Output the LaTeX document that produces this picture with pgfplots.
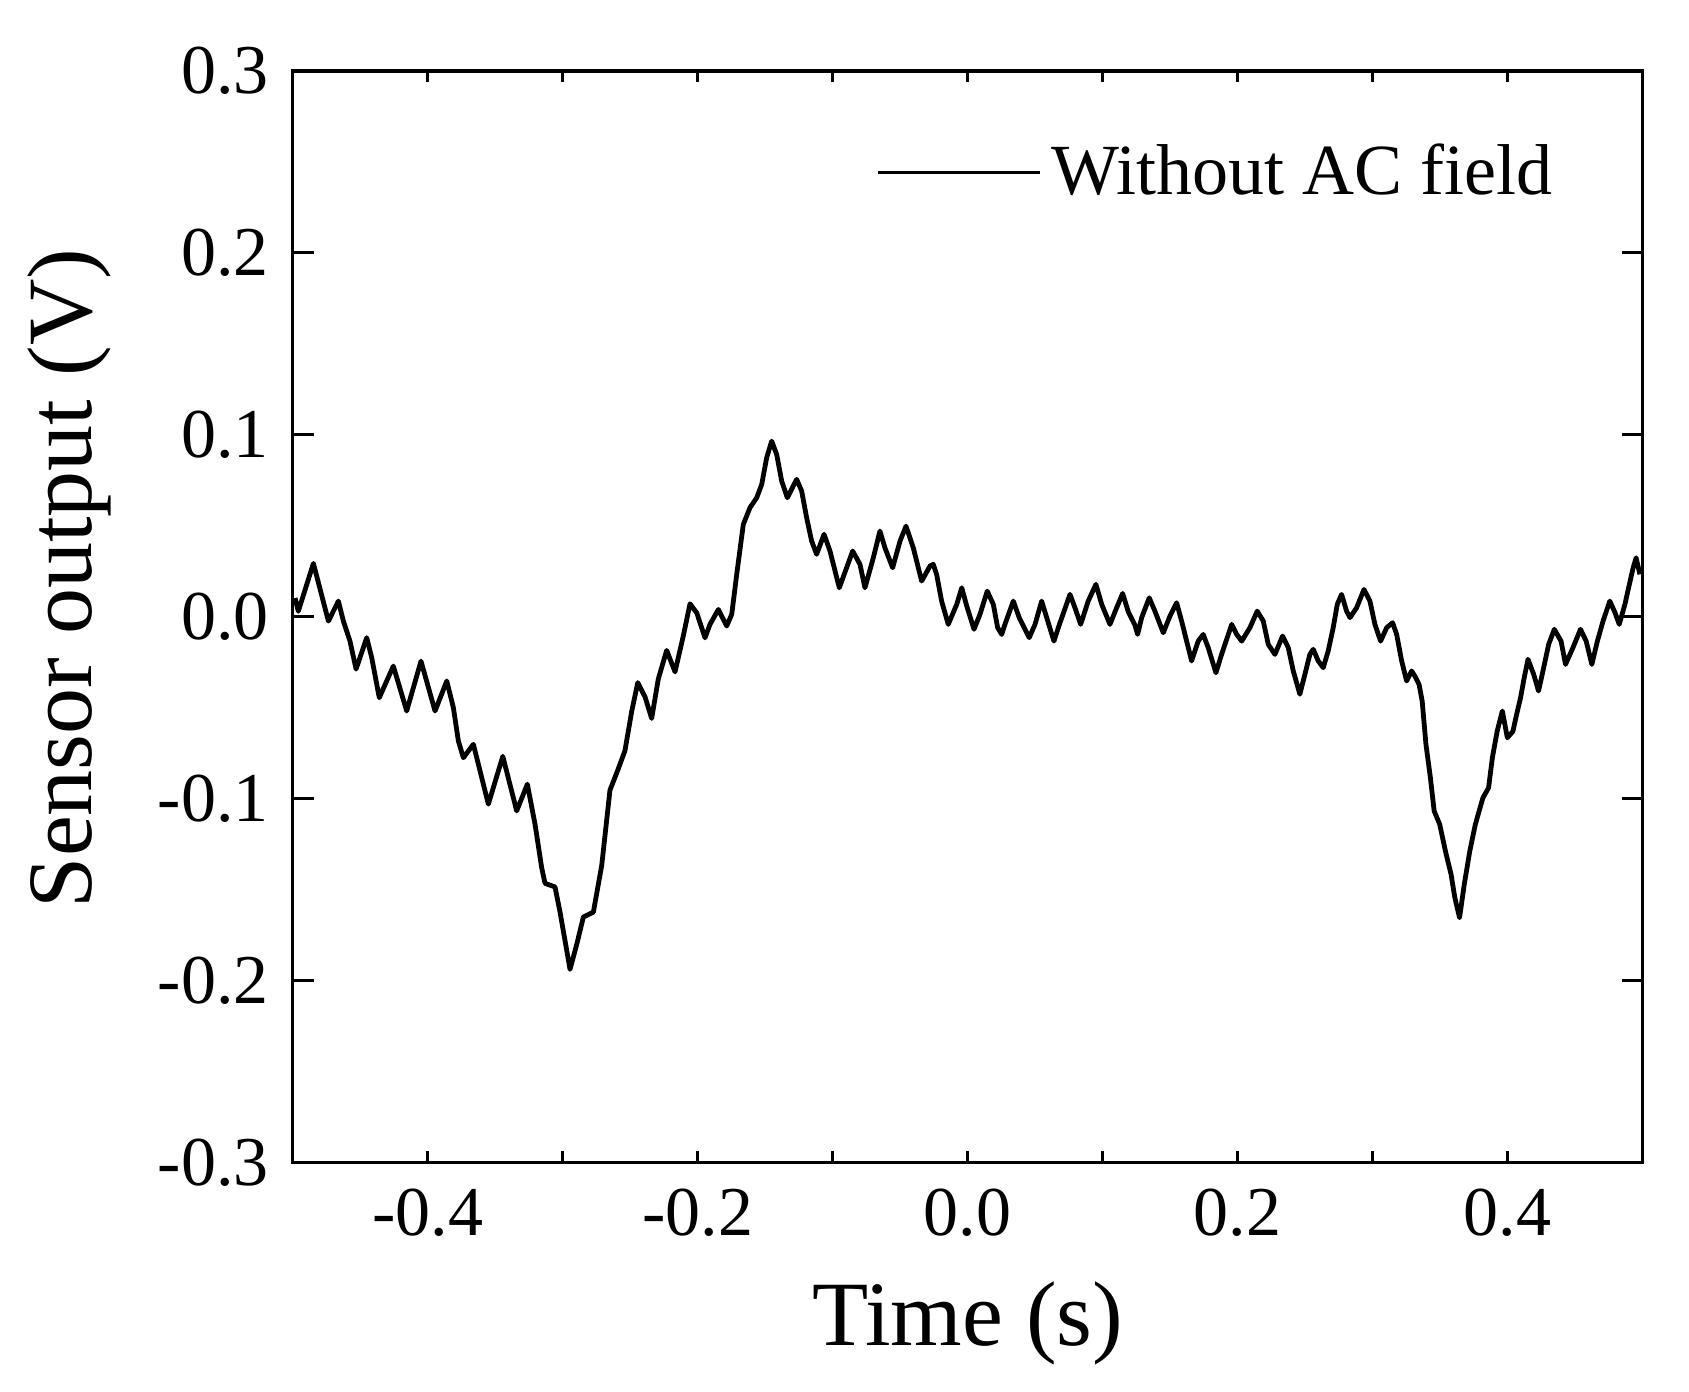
\documentclass[border=0pt]{standalone}
\usepackage{fontspec}
\setmainfont{Liberation Serif}
\usepackage{pgfplots}
\pgfplotsset{compat=1.18}

\begin{document}
\begin{tikzpicture}
\begin{axis}[
  scale only axis,
  width=337.5pt, height=273pt,
  xmin=-0.5, xmax=0.5, ymin=-0.3, ymax=0.3,
  xtick={-0.4,-0.2,0,0.2,0.4},
  minor xtick={-0.4,-0.3,-0.2,-0.1,0,0.1,0.2,0.3,0.4},
  ytick={-0.3,-0.2,-0.1,0,0.1,0.2,0.3},
  tick align=inside,
  major tick length=5.2pt,
  minor tick length=2.9pt,
  axis line style={line width=0.85pt},
  every tick/.style={black, line width=0.85pt},
  every major x tick/.append style={draw opacity=0},
  ticklabel style={font=\fontsize{17.5}{21}\selectfont},
  xticklabel style={yshift=-3pt},
  yticklabel style={xshift=-2.5pt},
  /pgf/number format/.cd, fixed, fixed zerofill, precision=1, assume math mode=true,
  /pgfplots/.cd,
  xlabel={Time (s)},
  ylabel={Sensor output (V)},
  xlabel style={font=\fontsize{23}{27}\selectfont, at={(axis description cs:0.5,-0.167)}, anchor=base},
  ylabel style={font=\fontsize{23}{27}\selectfont, at={(axis description cs:-0.149,0.535)}, anchor=base},
  legend style={at={(axis description cs:0.432,0.907)}, anchor=west, draw=none, fill=none,
    inner sep=0pt, font=\fontsize{18}{21}\selectfont, nodes={inner sep=2.6pt}},
  legend cell align=left,
  legend image code/.code={\draw[black, line width=0.6pt] (0pt,0pt) -- (40.5pt,0pt);},
]
\addplot[black, line width=1.2pt, line join=round] coordinates {
(-0.4983,0.0103) (-0.4959,0.0030) (-0.4847,0.0293) (-0.4736,-0.0024) (-0.4662,0.0086)
(-0.4625,-0.0024) (-0.4576,-0.0134) (-0.4531,-0.0288) (-0.4452,-0.0115) (-0.4415,-0.0225)
(-0.4359,-0.0445) (-0.4255,-0.0271) (-0.4156,-0.0518) (-0.4050,-0.0244) (-0.3946,-0.0518)
(-0.3859,-0.0353) (-0.3810,-0.0500) (-0.3773,-0.0683) (-0.3736,-0.0775) (-0.3662,-0.0701)
(-0.3551,-0.1030) (-0.3444,-0.0767) (-0.3341,-0.1067) (-0.3262,-0.0920) (-0.3205,-0.1141)
(-0.3156,-0.1379) (-0.3131,-0.1465) (-0.3057,-0.1485) (-0.3020,-0.1623) (-0.2983,-0.1780)
(-0.2946,-0.1938) (-0.2896,-0.1800) (-0.2847,-0.1650) (-0.2773,-0.1623) (-0.2711,-0.1366)
(-0.2650,-0.0953) (-0.2588,-0.0835) (-0.2539,-0.0736) (-0.2489,-0.0520) (-0.2444,-0.0362)
(-0.2390,-0.0441) (-0.2341,-0.0559) (-0.2292,-0.0342) (-0.2230,-0.0185) (-0.2168,-0.0303)
(-0.2107,-0.0106) (-0.2057,0.0071) (-0.2007,0.0021) (-0.1946,-0.0116) (-0.1909,-0.0042)
(-0.1847,0.0040) (-0.1785,-0.0051) (-0.1748,0.0013) (-0.1711,0.0233) (-0.1662,0.0508)
(-0.1613,0.0599) (-0.1563,0.0654) (-0.1526,0.0727) (-0.1489,0.0874) (-0.1452,0.0965)
(-0.1415,0.0892) (-0.1378,0.0746) (-0.1336,0.0654) (-0.1267,0.0755) (-0.1230,0.0691)
(-0.1193,0.0544) (-0.1156,0.0416) (-0.1119,0.0343) (-0.1064,0.0453) (-0.1020,0.0361)
(-0.0951,0.0159) (-0.0852,0.0361) (-0.0798,0.0288) (-0.0761,0.0159) (-0.0699,0.0324)
(-0.0650,0.0471) (-0.0613,0.0379) (-0.0556,0.0269) (-0.0501,0.0416) (-0.0457,0.0498)
(-0.0403,0.0379) (-0.0341,0.0196) (-0.0279,0.0279) (-0.0255,0.0288) (-0.0230,0.0233)
(-0.0193,0.0086) (-0.0144,-0.0042) (-0.0081,0.0068) (-0.0044,0.0159) (-0.0007,0.0059)
(0.0047,-0.0069) (0.0091,0.0013) (0.0145,0.0141) (0.0190,0.0068) (0.0222,-0.0060)
(0.0252,-0.0097) (0.0276,-0.0042) (0.0338,0.0086) (0.0382,-0.0005) (0.0456,-0.0115)
(0.0499,-0.0042) (0.0548,0.0086) (0.0597,-0.0033) (0.0639,-0.0134) (0.0684,-0.0033)
(0.0758,0.0123) (0.0795,0.0049) (0.0837,-0.0042) (0.0893,0.0086) (0.0950,0.0178)
(0.0993,0.0068) (0.1054,-0.0042) (0.1104,0.0050) (0.1148,0.0128) (0.1190,0.0027)
(0.1239,-0.0046) (0.1259,-0.0097) (0.1289,-0.0005) (0.1345,0.0104) (0.1387,0.0031)
(0.1449,-0.0088) (0.1499,0.0004) (0.1548,0.0077) (0.1585,-0.0024) (0.1622,-0.0134)
(0.1659,-0.0243) (0.1708,-0.0134) (0.1745,-0.0097) (0.1782,-0.0170) (0.1839,-0.0308)
(0.1881,-0.0207) (0.1956,-0.0042) (0.1993,-0.0097) (0.2030,-0.0134) (0.2091,-0.0060)
(0.2145,0.0031) (0.2190,-0.0024) (0.2227,-0.0152) (0.2276,-0.0207) (0.2333,-0.0106)
(0.2375,-0.0170) (0.2412,-0.0298) (0.2461,-0.0426) (0.2498,-0.0317) (0.2535,-0.0207)
(0.2560,-0.0179) (0.2597,-0.0243) (0.2634,-0.0280) (0.2671,-0.0188) (0.2708,-0.0060)
(0.2738,0.0068) (0.2770,0.0123) (0.2807,0.0031) (0.2832,-0.0005) (0.2881,0.0049)
(0.2936,0.0150) (0.2980,0.0086) (0.3017,-0.0042) (0.3059,-0.0134) (0.3104,-0.0060)
(0.3148,-0.0033) (0.3178,-0.0097) (0.3215,-0.0243) (0.3252,-0.0353) (0.3289,-0.0298)
(0.3316,-0.0330) (0.3344,-0.0372) (0.3367,-0.0463) (0.3395,-0.0701) (0.3428,-0.0885)
(0.3456,-0.1068) (0.3497,-0.1141) (0.3539,-0.1287) (0.3581,-0.1415) (0.3609,-0.1544)
(0.3644,-0.1654) (0.3679,-0.1470) (0.3720,-0.1287) (0.3761,-0.1141) (0.3817,-0.0995)
(0.3859,-0.0940) (0.3887,-0.0775) (0.3923,-0.0628) (0.3961,-0.0518) (0.3998,-0.0665)
(0.4039,-0.0630) (0.4067,-0.0536) (0.4096,-0.0445) (0.4123,-0.0335) (0.4151,-0.0234)
(0.4193,-0.0316) (0.4229,-0.0408) (0.4262,-0.0298) (0.4304,-0.0152) (0.4346,-0.0069)
(0.4396,-0.0134) (0.4429,-0.0262) (0.4484,-0.0170) (0.4540,-0.0069) (0.4582,-0.0134)
(0.4624,-0.0262) (0.4665,-0.0134) (0.4707,-0.0024) (0.4757,0.0086) (0.4796,0.0022)
(0.4827,-0.0042) (0.4869,0.0068) (0.4902,0.0178) (0.4930,0.0269) (0.4952,0.0324)
(0.4980,0.0233)
};
\addlegendentry{Without AC field}
\end{axis}
\pgfresetboundingbox
\path[use as bounding box] ([shift={(-73.2pt,-57.1pt)}]current axis.south west)
  rectangle ([shift={(349.1pt,290.7pt)}]current axis.south west);
\end{tikzpicture}
\end{document}
